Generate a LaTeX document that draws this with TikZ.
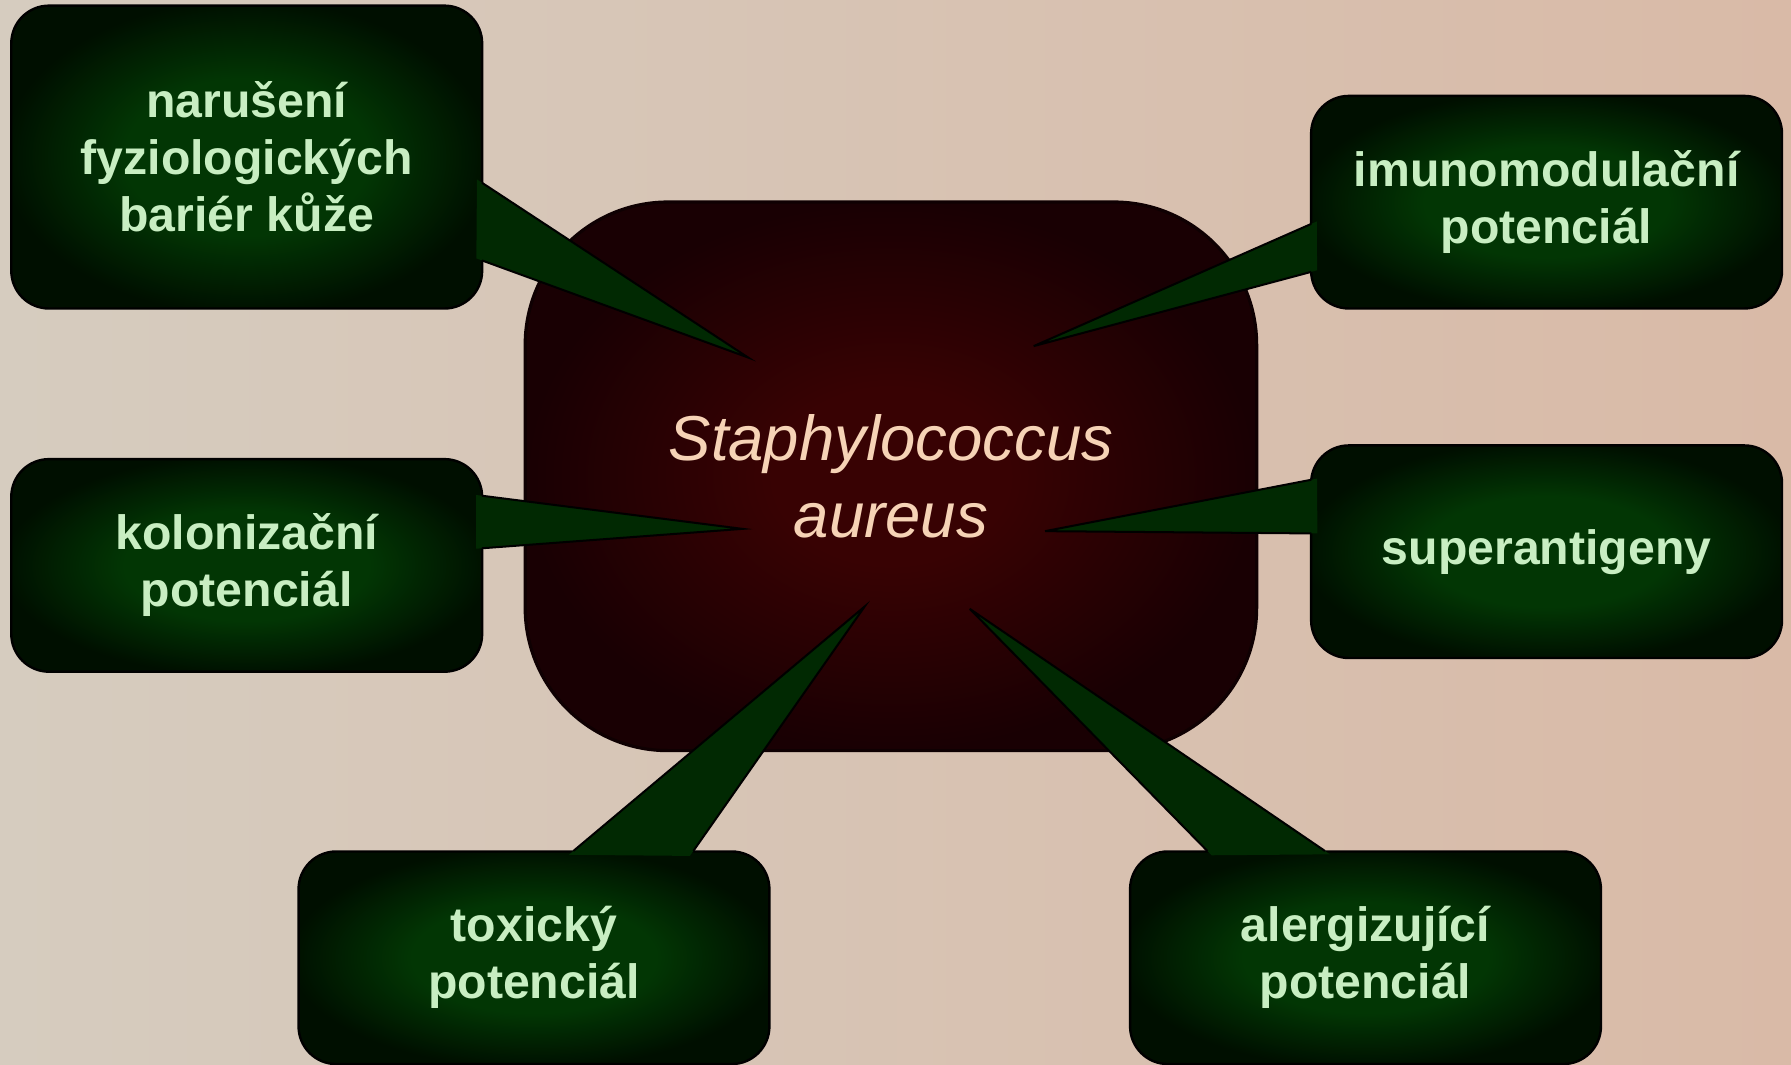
\documentclass[tikz,border=0pt]{standalone}
\usepackage{fontspec}
\setmainfont{Liberation Sans}
\usepackage{tikz}
\usetikzlibrary{calc}

\definecolor{bgleft}{HTML}{D6CCBF}
\definecolor{bgright}{HTML}{D9BAA7}
\definecolor{gdark}{HTML}{000F00}
\definecolor{gmid}{HTML}{023604}
\definecolor{tailgreen}{HTML}{012902}
\definecolor{rdark}{HTML}{190003}
\definecolor{rmid}{HTML}{380203}
\definecolor{labelgreen}{HTML}{C8EEC2}
\definecolor{peach}{HTML}{F6D3B6}

\pgfdeclareradialshading{greenglow}{\pgfpoint{0bp}{0bp}}{color(0bp)=(gmid); color(13bp)=(gmid); color(26bp)=(gdark); color(50bp)=(gdark)}
\pgfdeclareradialshading{redglow}{\pgfpoint{0bp}{0bp}}{color(0bp)=(rmid); color(8bp)=(rmid); color(25bp)=(rdark); color(50bp)=(rdark)}

\tikzset{
    factor/.style={shade, shading=greenglow, draw=black, line width=0.6pt,
        rounded corners=0.33cm, minimum width=4.12cm, minimum height=1.86cm,
        inner sep=0pt, align=center, text=labelgreen,
        font=\bfseries\fontsize{12}{14.2}\selectfont},
    organism/.style={shade, shading=redglow, draw=rdark!60!black, line width=0.8pt,
        rounded corners=1.25cm, minimum width=6.4cm, minimum height=4.8cm,
        inner sep=0pt, align=center, text=peach,
        font=\itshape\fontsize{15.8}{19.3}\selectfont},
    pointer/.style={fill=tailgreen},
    rim/.style={draw=black, line width=0.5pt, line join=miter}
}

\begin{document}
\begin{tikzpicture}[x=0.01cm, y=-0.01cm]
    % Skin background
    \useasboundingbox (0,0) rectangle (1568,932);
    \shade[left color=bgleft, right color=bgright] (0,0) rectangle (1568,932);

    % The bacterium in the middle
    \node[organism] (staph) at (780,417) {Staphylococcus\\aureus};

    % Factor boxes
    \node[factor, minimum height=2.65cm] (barrier) at (216,137.5) {narušení\\fyziologických\\bariér kůže};
    \node[factor] (colon) at (216,495) {kolonizační\\potenciál};
    \node[factor] (immuno) at (1354,177) {imunomodulační\\potenciál};
    \node[factor] (superag) at (1354,483) {superantigeny};
    \node[factor] (toxic) at (467.5,838.5) {toxický\\potenciál};
    \node[factor] (allerg) at (1195.5,838.5) {alergizující\\potenciál};

    % Pointer ends: two on the box edge, one tip inside the bacterium
    \coordinate (a1) at (422,160);
    \coordinate (a2) at (422,228);
    \coordinate (aTip) at (655,313);
    \coordinate (b1) at (422,434);
    \coordinate (b2) at (422,480);
    \coordinate (bTip) at (650,463);
    \coordinate (c1) at (1148,196);
    \coordinate (c2) at (1148,238);
    \coordinate (cTip) at (905,303);
    \coordinate (d1) at (1148,420);
    \coordinate (d2) at (1148,467);
    \coordinate (dTip) at (915,465);
    \coordinate (e1) at (502,745);
    \coordinate (e2) at (607,745);
    \coordinate (eTip) at (757,531);
    \coordinate (f1) at (1057,745);
    \coordinate (f2) at (1160,745);
    \coordinate (fTip) at (849,533);

    % Pointers (fill runs a little past the box rim to hide it)
    \foreach \p in {a,b,c,d,e,f} {
        \fill[pointer] ($(\p1)!-1.5pt!(\p Tip)$) -- (\p Tip) -- ($(\p2)!-1.5pt!(\p Tip)$) -- cycle;
        \draw[rim] (\p1) -- (\p Tip) -- (\p2);
    }
\end{tikzpicture}
\end{document}
